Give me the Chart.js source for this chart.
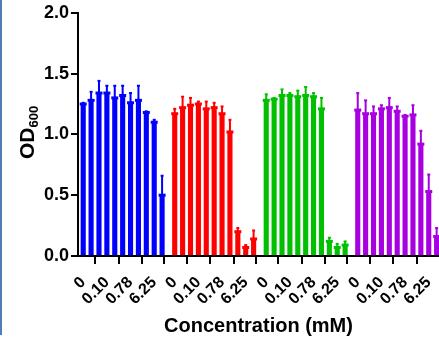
<!DOCTYPE html>
<html>
<head>
<meta charset="utf-8">
<script src="https://cdn.jsdelivr.net/npm/chart.js@4.4.1/dist/chart.umd.min.js"></script>
<style>
  html, body { margin: 0; padding: 0; background: #fff; overflow: hidden; }
  #wrap { position: relative; width: 439px; height: 346px; }
  #edge { position: absolute; left: 0; top: 0; width: 2px; height: 335px; background: #4f7db4; }
</style>
</head>
<body>
<div id="wrap">
  <canvas id="odChart" width="439" height="346"></canvas>
  <div id="edge"></div>
</div>
<script>
// concentration series (mM), 2-fold dilutions; only some are labelled on the axis
const concentrations = ["0", "0.024", "0.049", "0.10", "0.20", "0.39", "0.78", "1.56", "3.13", "6.25", "12.5"];
const tickIndexes = [0, 3, 6, 9];

const blueMean = [1.25, 1.28, 1.34, 1.34, 1.30, 1.32, 1.26, 1.28, 1.18, 1.10, 0.50];
const blueErr  = [0.01, 0.07, 0.10, 0.06, 0.10, 0.08, 0.08, 0.12, 0.01, 0.02, 0.16];

const redMean = [1.17, 1.22, 1.24, 1.25, 1.21, 1.22, 1.17, 1.02, 0.20, 0.07, 0.14];
const redErr  = [0.04, 0.09, 0.06, 0.02, 0.06, 0.04, 0.06, 0.10, 0.03, 0.02, 0.07];

const greenMean = [1.28, 1.29, 1.32, 1.32, 1.31, 1.32, 1.31, 1.21, 0.12, 0.07, 0.09];
const greenErr  = [0.05, 0.01, 0.05, 0.02, 0.05, 0.07, 0.03, 0.09, 0.03, 0.03, 0.03];

const purpleMean = [1.20, 1.17, 1.17, 1.21, 1.22, 1.19, 1.15, 1.16, 0.92, 0.53, 0.16];
const purpleErr  = [0.14, 0.11, 0.06, 0.03, 0.08, 0.04, 0.01, 0.08, 0.11, 0.14, 0.07];

const yTicks = [0, 0.5, 1.0, 1.5, 2.0];

const groups = [
  { mean: blueMean, err: blueErr, color: "#0000ff" },
  { mean: redMean, err: redErr, color: "#ff0000" },
  { mean: greenMean, err: greenErr, color: "#00c000" },
  { mean: purpleMean, err: purpleErr, color: "#a800e0" },
];
const groupStep = 11.6; // slots from one group start to the next

const points = [];
const colors = [];
const errs = [];
const tickValues = [];
const tickLabels = {};
groups.forEach((g, gi) => {
  g.mean.forEach((m, i) => {
    points.push({ x: gi * groupStep + i, y: m });
    colors.push(g.color);
    errs.push(g.err[i]);
  });
  tickIndexes.forEach(i => {
    const v = gi * groupStep + i;
    tickValues.push(v);
    tickLabels[v.toFixed(2)] = concentrations[i];
  });
});

const font = "Arial, 'Liberation Sans', sans-serif";

// upper error whiskers drawn from the data via the chart scales
const errorBars = {
  id: "errorBars",
  afterDatasetsDraw(chart) {
    const ctx = chart.ctx;
    const xs = chart.scales.x;
    const ys = chart.scales.y;
    ctx.save();
    points.forEach((p, i) => {
      const px = xs.getPixelForValue(p.x);
      const py = ys.getPixelForValue(p.y);
      const pt = ys.getPixelForValue(p.y + errs[i]);
      ctx.fillStyle = colors[i];
      ctx.fillRect(px - 1, pt, 2, py - pt);
      ctx.fillRect(px - 1.5, pt - 1, 3, 2);
      ctx.fillRect(px - 3.5, py - 1.5, 7, 3);
    });
    ctx.restore();
  },
};

// y title with a real subscript
const yTitle = {
  id: "yTitle",
  afterDraw(chart) {
    const ctx = chart.ctx;
    const area = chart.chartArea;
    ctx.save();
    ctx.fillStyle = "#000";
    ctx.textBaseline = "alphabetic";
    const big = "bold 21px " + font;
    const small = "bold 13px " + font;
    ctx.font = big;
    const w1 = ctx.measureText("OD").width;
    ctx.font = small;
    const w2 = ctx.measureText("600").width;
    const cy = (area.top + area.bottom) / 2 - 2;
    ctx.translate(34, cy + (w1 + w2) / 2);
    ctx.rotate(-Math.PI / 2);
    ctx.font = big;
    ctx.fillText("OD", 0, 0);
    ctx.font = small;
    ctx.fillText("600", w1, 4);
    ctx.restore();
  },
};

new Chart(document.getElementById("odChart"), {
  type: "bar",
  data: {
    datasets: [
      {
        data: points,
        backgroundColor: colors,
        borderWidth: 0,
        barPercentage: 0.65,
        categoryPercentage: 1,
      },
    ],
  },
  options: {
    responsive: false,
    animation: false,
    layout: { padding: { top: 11, right: 0, left: 0, bottom: 0 } },
    plugins: {
      legend: { display: false },
      tooltip: { enabled: false },
    },
    scales: {
      x: {
        type: "linear",
        offset: false,
        min: -0.66,
        max: 45.1,
        afterBuildTicks: scale => {
          scale.ticks = tickValues.map(v => ({ value: v }));
        },
        afterFit: scale => {
          scale.height = 90;
          scale.paddingLeft = 0;
          scale.paddingRight = 0;
        },
        ticks: {
          autoSkip: false,
          minRotation: 45,
          maxRotation: 45,
          padding: 9,
          color: "#000",
          font: { family: font, size: 16, weight: "bold" },
          callback: v => tickLabels[Number(v).toFixed(2)],
        },
        grid: { drawOnChartArea: false, drawTicks: true, tickLength: 8, color: "#000", lineWidth: 2 },
        border: { color: "#000", width: 2 },
        title: {
          display: true,
          text: "Concentration (mM)",
          color: "#000",
          font: { family: font, size: 20, weight: "bold" },
          padding: { top: 6, bottom: 8 },
        },
      },
      y: {
        min: 0,
        max: 2,
        afterBuildTicks: scale => {
          scale.ticks = yTicks.map(v => ({ value: v }));
        },
        afterFit: scale => { scale.width = 78; },
        ticks: {
          color: "#000",
          padding: 2,
          font: { family: font, size: 18, weight: "bold" },
          callback: v => Number(v).toFixed(1),
        },
        grid: { drawOnChartArea: false, drawTicks: true, tickLength: 7, color: "#000", lineWidth: 2 },
        border: { color: "#000", width: 2 },
      },
    },
  },
  plugins: [errorBars, yTitle],
});
</script>
</body>
</html>
